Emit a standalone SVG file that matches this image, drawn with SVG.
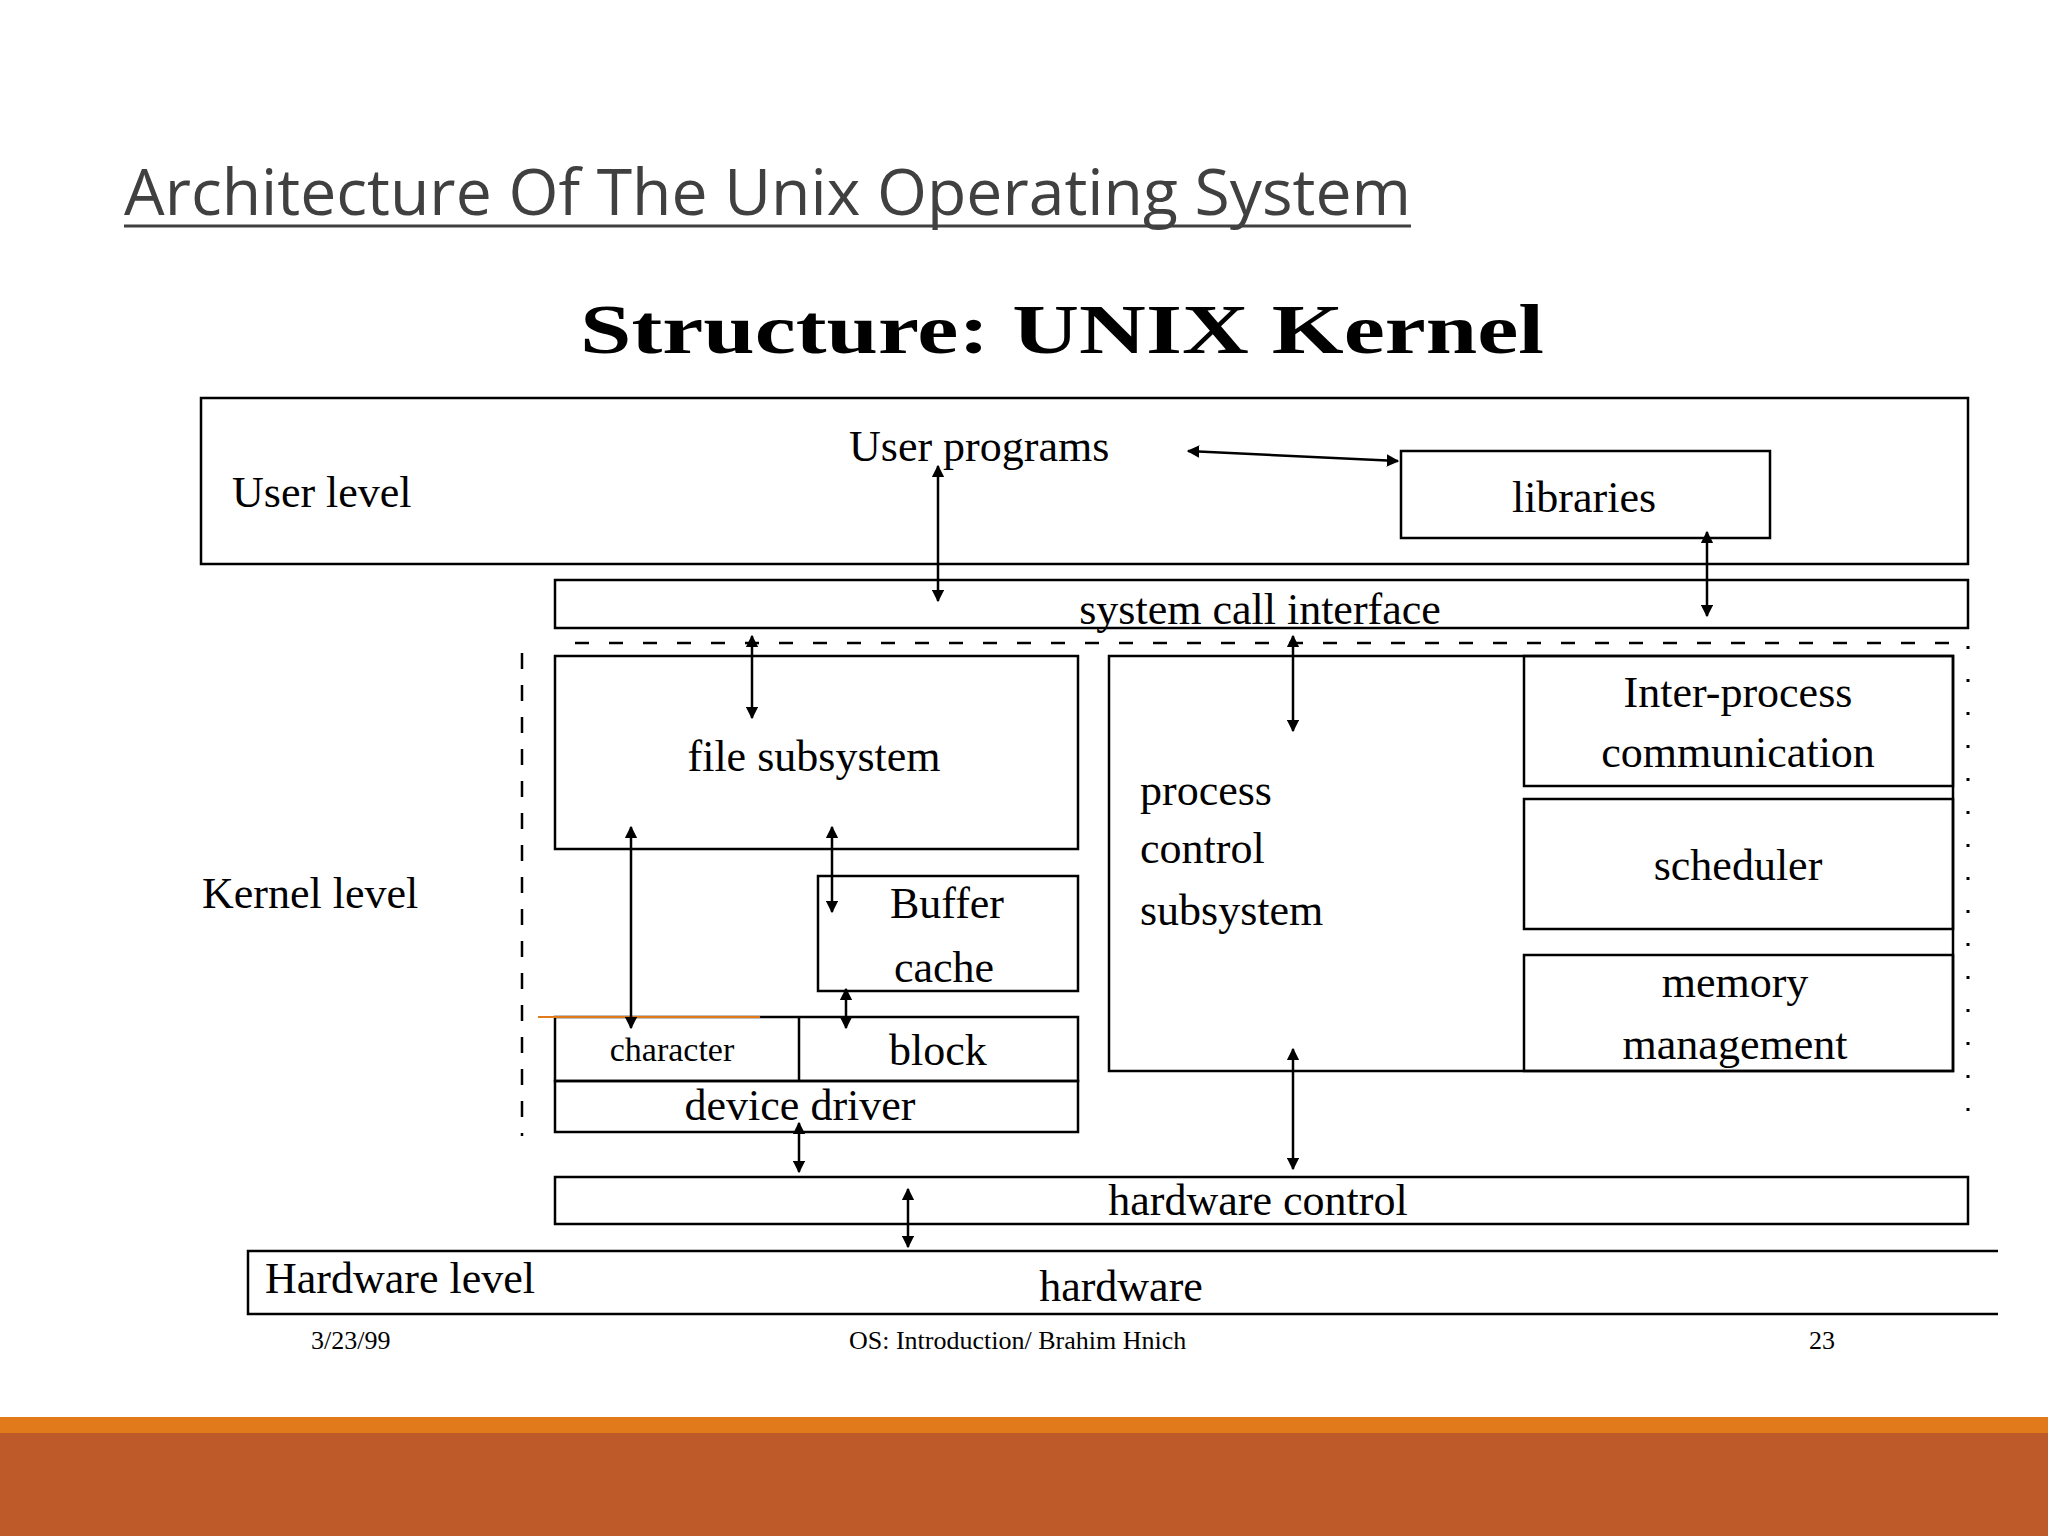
<svg xmlns="http://www.w3.org/2000/svg" width="2048" height="1536" viewBox="0 0 2048 1536">
<style>
.b{fill:none;stroke:#000;stroke-width:2.5}
.t{font-family:"Liberation Serif",serif;font-size:44px;fill:#000}
.a{stroke:#000;stroke-width:2.5;fill:none;marker-start:url(#m);marker-end:url(#m)}
.f{font-family:"Liberation Serif",serif;font-size:26px;fill:#000}
</style>
<defs><marker id="m" viewBox="0 0 10 10" refX="9" refY="5" markerWidth="5" markerHeight="5" orient="auto-start-reverse"><path d="M0,0L10,5L0,10z" fill="#000"/></marker></defs>
<rect width="2048" height="1536" fill="#fff"/>
<g id="title">
<text x="124" y="215" font-family="Open Sans,sans-serif" font-size="64" fill="#404040" textLength="1287" lengthAdjust="spacingAndGlyphs">Architecture Of The Unix Operating System</text>
<line x1="124" y1="226" x2="1411" y2="226" stroke="#404040" stroke-width="3"/>
<text x="1062" y="353" text-anchor="middle" font-family="Liberation Serif,serif" font-weight="bold" font-size="70" textLength="964" lengthAdjust="spacingAndGlyphs">Structure: UNIX Kernel</text>
</g>
<g id="user"><rect class="b" x="201" y="398" width="1767" height="166"/><text class="t" x="232" y="507">User level</text><text class="t" x="849" y="461">User programs</text></g>
<g id="libraries"><rect class="b" x="1401" y="451" width="369" height="87"/><text class="t" x="1584" y="512" text-anchor="middle">libraries</text></g>
<g id="syscall"><rect class="b" x="555" y="580" width="1413" height="48"/><text class="t" x="1260" y="624" text-anchor="middle">system call interface</text></g>
<g id="kernel"><text class="t" x="202" y="908">Kernel level</text>
<line x1="575" y1="643" x2="1968" y2="643" stroke="#000" stroke-width="2.5" stroke-dasharray="14,20"/>
<line x1="522" y1="653" x2="522" y2="1136" stroke="#000" stroke-width="2.5" stroke-dasharray="16,16"/>
<line x1="1968" y1="646" x2="1968" y2="1130" stroke="#000" stroke-width="3" stroke-dasharray="3,30"/></g>
<g id="file"><rect class="b" x="555" y="656" width="523" height="193"/><text class="t" x="814" y="771" text-anchor="middle">file subsystem</text></g>
<g id="buffer"><rect class="b" x="818" y="876" width="260" height="115"/><text class="t" x="947" y="918" text-anchor="middle">Buffer</text><text class="t" x="944" y="982" text-anchor="middle">cache</text></g>
<g id="driver"><rect class="b" x="555" y="1017" width="523" height="64"/><line class="b" x1="799" y1="1017" x2="799" y2="1081"/><rect class="b" x="555" y="1081" width="523" height="51"/>
<line x1="538" y1="1017" x2="760" y2="1017" stroke="#E07A1A" stroke-width="2"/>
<text x="672" y="1061" text-anchor="middle" font-family="Liberation Serif,serif" font-size="34">character</text>
<text class="t" x="938" y="1065" text-anchor="middle">block</text>
<text class="t" x="800" y="1120" text-anchor="middle">device driver</text></g>
<g id="process"><rect class="b" x="1109" y="656" width="844" height="415"/>
<text class="t" x="1140" y="805">process</text><text class="t" x="1140" y="863">control</text><text class="t" x="1140" y="925">subsystem</text></g>
<g id="ipc"><rect class="b" x="1524" y="656" width="429" height="130"/><text class="t" x="1738" y="707" text-anchor="middle">Inter-process</text><text class="t" x="1738" y="767" text-anchor="middle">communication</text></g>
<g id="scheduler"><rect class="b" x="1524" y="799" width="429" height="130"/><text class="t" x="1738" y="880" text-anchor="middle">scheduler</text></g>
<g id="memory"><rect class="b" x="1524" y="955" width="429" height="116"/><text class="t" x="1735" y="997" text-anchor="middle">memory</text><text class="t" x="1735" y="1059" text-anchor="middle">management</text></g>
<g id="hwcontrol"><rect class="b" x="555" y="1177" width="1413" height="47"/><text class="t" x="1258" y="1215" text-anchor="middle">hardware control</text></g>
<g id="hardware"><path class="b" d="M1998,1251H248V1314H1998"/><text class="t" x="265" y="1293">Hardware level</text><text class="t" x="1121" y="1301" text-anchor="middle">hardware</text></g>
<g id="connectors">
<line class="a" x1="1188" y1="451" x2="1398" y2="461"/>
<line class="a" x1="938" y1="466" x2="938" y2="601"/>
<line class="a" x1="1707" y1="532" x2="1707" y2="616"/>
<line class="a" x1="752" y1="636" x2="752" y2="718"/>
<line class="a" x1="1293" y1="636" x2="1293" y2="731"/>
<line class="a" x1="832" y1="827" x2="832" y2="912"/>
<line class="a" x1="631" y1="827" x2="631" y2="1028"/>
<line class="a" x1="846" y1="989" x2="846" y2="1028"/>
<line class="a" x1="799" y1="1123" x2="799" y2="1172"/>
<line class="a" x1="1293" y1="1049" x2="1293" y2="1169"/>
<line class="a" x1="908" y1="1189" x2="908" y2="1247"/>
</g>
<g id="footer"><text class="f" x="311" y="1349">3/23/99</text><text class="f" x="849" y="1349">OS: Introduction/ Brahim Hnich</text><text class="f" x="1809" y="1349">23</text></g>
<rect x="0" y="1417" width="2048" height="16" fill="#E07A1A"/>
<rect x="0" y="1433" width="2048" height="103" fill="#BE5A2A"/>
</svg>
